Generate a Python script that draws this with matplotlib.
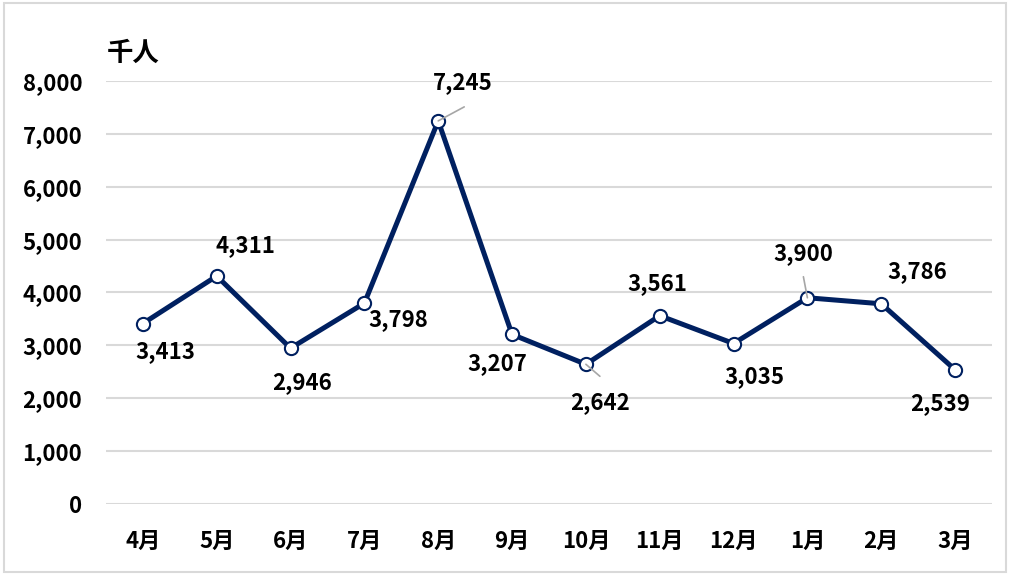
import matplotlib.pyplot as plt
from matplotlib.patches import Rectangle

plt.rcParams['font.family'] = ['Noto Sans CJK JP', 'DejaVu Sans']

# monthly values (thousand people)
months = ["4月", "5月", "6月", "7月", "8月", "9月", "10月", "11月", "12月", "1月", "2月", "3月"]
values = [3413, 4311, 2946, 3798, 7245, 3207, 2642, 3561, 3035, 3900, 3786, 2539]

# data label offsets in pixels (dx, dy), and leader line ends for a few of them
label_offsets = [(22, -28), (29, 30), (12, -34), (34, -16), (25, 38), (-15, -29),
                 (14, -38), (-2, 32), (21, -33), (-4, 44), (36, 32), (-15, -34)]
leaders = {4: (26, 14), 6: (14, -12), 9: (-4, 21)}

navy = "#002060"

fig = plt.figure(figsize=(10.11, 5.75), dpi=100)
ax = fig.add_axes([0.1048, 0.1235, 0.8764, 0.7357])

x = list(range(len(months)))
ax.plot(x, values, color=navy, linewidth=3.6, marker="o", markersize=9.5,
        markerfacecolor="white", markeredgecolor=navy, markeredgewidth=1.5,
        zorder=3, solid_joinstyle="round")

for i, (lx, ly) in leaders.items():
    ax.annotate("", xy=(i, values[i]), xytext=(lx, ly), textcoords="offset pixels",
                arrowprops=dict(arrowstyle="-", color="#a6a6a6", lw=1.2,
                                shrinkA=0, shrinkB=0), zorder=4)

for i, (v, (dx, dy)) in enumerate(zip(values, label_offsets)):
    ax.annotate(f"{v:,}", xy=(i, v), xytext=(dx, dy), textcoords="offset pixels",
                ha="center", va="center", fontsize=16, fontweight="bold",
                color="black", zorder=4)

ax.set_xlim(-0.5, len(months) - 0.5)
ax.set_ylim(0, 8000)
ax.set_yticks(range(0, 8001, 1000))
ax.set_yticklabels([f"{t:,}" for t in range(0, 8001, 1000)])
ax.set_xticks(x)
ax.set_xticklabels(months)
ax.tick_params(axis="y", length=0, pad=17, labelsize=16)
ax.tick_params(axis="x", length=0, pad=19, labelsize=16)
for lab in ax.get_xticklabels() + ax.get_yticklabels():
    lab.set_fontweight("bold")

ax.grid(axis="y", color="#d9d9d9", linewidth=1.5)
ax.set_axisbelow(True)
for s in ax.spines.values():
    s.set_visible(False)

fig.text(107 / 1011, 1 - 53 / 575, "千人", fontsize=19, fontweight="bold",
         ha="left", va="center")

fig.patches.append(Rectangle((0.004, 0.006), 0.991, 0.988, transform=fig.transFigure,
                             fill=False, edgecolor="#d9d9d9", linewidth=1.5))

fig.savefig("out.png", dpi=100)
